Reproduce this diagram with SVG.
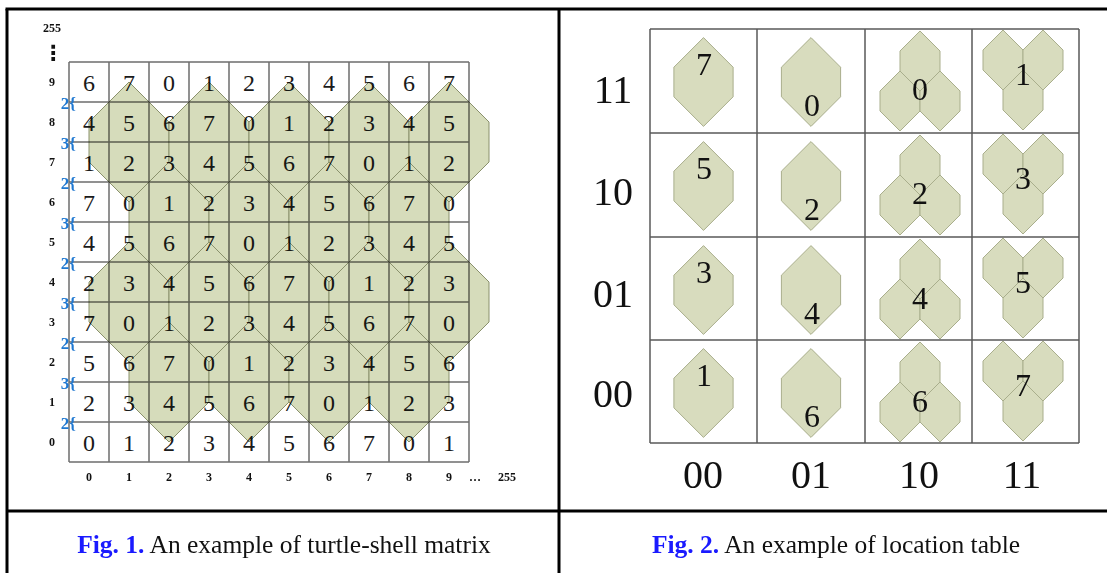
<svg xmlns="http://www.w3.org/2000/svg" xmlns:xlink="http://www.w3.org/1999/xlink" width="1107" height="573" viewBox="0 0 1107 573">
<style>
.frame{stroke:#000;stroke-width:3;fill:none}
.g1{stroke:#4a4a4a;stroke-width:1.5;fill:none;opacity:0.8}
.g2{stroke:#5a5a5a;stroke-width:1.5;fill:none}
.d1{font-family:"Liberation Serif",serif;font-size:24px;fill:#1a1a1a;text-anchor:middle}
.ax{font-family:"Liberation Serif",serif;font-size:12px;font-weight:bold;fill:#111;text-anchor:middle}
.br{font-family:"Liberation Serif",serif;font-size:17px;font-weight:bold;fill:#1f78d1;text-anchor:end}
.d2{font-family:"Liberation Serif",serif;font-size:32px;fill:#111;text-anchor:middle}
.lb{font-family:"Liberation Serif",serif;font-size:40px;fill:#111;text-anchor:middle}
.cap{font-family:"Liberation Serif",serif;font-size:25.5px;fill:#111;text-anchor:middle}
.fig{fill:#1a1aff;font-weight:bold}
.hx1{fill:#d6dcbb;stroke:#8a916c;stroke-width:1}
.hx2{fill:#d8dcbe;stroke:#a9ae8c;stroke-width:1}
</style>
<defs>
<polygon id="h1" points="0,-60 40,-20 40,20 0,60 -40,20 -40,-20"/>
<polygon id="h2a" points="0,-44.4 29.6,-14.8 29.6,14.8 0,44.4 -29.6,14.8 -29.6,-14.8"/>
<polygon id="h2b" points="0,-30 20,-10 20,10 0,30 -20,10 -20,-10"/>
</defs>
<rect x="0" y="0" width="1107" height="573" fill="#fff"/>
<g id="frame" class="frame">
<line x1="5.5" y1="9" x2="1107" y2="9"/>
<line x1="7" y1="9" x2="7" y2="573"/>
<line x1="559" y1="9" x2="559" y2="573"/>
<line x1="7" y1="511" x2="1107" y2="511"/>
</g>
<g id="fig1-digits">
<text class="d1" x="89" y="91">6</text><text class="d1" x="129" y="91">7</text><text class="d1" x="169" y="91">0</text><text class="d1" x="209" y="91">1</text><text class="d1" x="249" y="91">2</text><text class="d1" x="289" y="91">3</text><text class="d1" x="329" y="91">4</text><text class="d1" x="369" y="91">5</text><text class="d1" x="409" y="91">6</text><text class="d1" x="449" y="91">7</text>
<text class="d1" x="89" y="131">4</text><text class="d1" x="129" y="131">5</text><text class="d1" x="169" y="131">6</text><text class="d1" x="209" y="131">7</text><text class="d1" x="249" y="131">0</text><text class="d1" x="289" y="131">1</text><text class="d1" x="329" y="131">2</text><text class="d1" x="369" y="131">3</text><text class="d1" x="409" y="131">4</text><text class="d1" x="449" y="131">5</text>
<text class="d1" x="89" y="171">1</text><text class="d1" x="129" y="171">2</text><text class="d1" x="169" y="171">3</text><text class="d1" x="209" y="171">4</text><text class="d1" x="249" y="171">5</text><text class="d1" x="289" y="171">6</text><text class="d1" x="329" y="171">7</text><text class="d1" x="369" y="171">0</text><text class="d1" x="409" y="171">1</text><text class="d1" x="449" y="171">2</text>
<text class="d1" x="89" y="211">7</text><text class="d1" x="129" y="211">0</text><text class="d1" x="169" y="211">1</text><text class="d1" x="209" y="211">2</text><text class="d1" x="249" y="211">3</text><text class="d1" x="289" y="211">4</text><text class="d1" x="329" y="211">5</text><text class="d1" x="369" y="211">6</text><text class="d1" x="409" y="211">7</text><text class="d1" x="449" y="211">0</text>
<text class="d1" x="89" y="251">4</text><text class="d1" x="129" y="251">5</text><text class="d1" x="169" y="251">6</text><text class="d1" x="209" y="251">7</text><text class="d1" x="249" y="251">0</text><text class="d1" x="289" y="251">1</text><text class="d1" x="329" y="251">2</text><text class="d1" x="369" y="251">3</text><text class="d1" x="409" y="251">4</text><text class="d1" x="449" y="251">5</text>
<text class="d1" x="89" y="291">2</text><text class="d1" x="129" y="291">3</text><text class="d1" x="169" y="291">4</text><text class="d1" x="209" y="291">5</text><text class="d1" x="249" y="291">6</text><text class="d1" x="289" y="291">7</text><text class="d1" x="329" y="291">0</text><text class="d1" x="369" y="291">1</text><text class="d1" x="409" y="291">2</text><text class="d1" x="449" y="291">3</text>
<text class="d1" x="89" y="331">7</text><text class="d1" x="129" y="331">0</text><text class="d1" x="169" y="331">1</text><text class="d1" x="209" y="331">2</text><text class="d1" x="249" y="331">3</text><text class="d1" x="289" y="331">4</text><text class="d1" x="329" y="331">5</text><text class="d1" x="369" y="331">6</text><text class="d1" x="409" y="331">7</text><text class="d1" x="449" y="331">0</text>
<text class="d1" x="89" y="371">5</text><text class="d1" x="129" y="371">6</text><text class="d1" x="169" y="371">7</text><text class="d1" x="209" y="371">0</text><text class="d1" x="249" y="371">1</text><text class="d1" x="289" y="371">2</text><text class="d1" x="329" y="371">3</text><text class="d1" x="369" y="371">4</text><text class="d1" x="409" y="371">5</text><text class="d1" x="449" y="371">6</text>
<text class="d1" x="89" y="411">2</text><text class="d1" x="129" y="411">3</text><text class="d1" x="169" y="411">4</text><text class="d1" x="209" y="411">5</text><text class="d1" x="249" y="411">6</text><text class="d1" x="289" y="411">7</text><text class="d1" x="329" y="411">0</text><text class="d1" x="369" y="411">1</text><text class="d1" x="409" y="411">2</text><text class="d1" x="449" y="411">3</text>
<text class="d1" x="89" y="451">0</text><text class="d1" x="129" y="451">1</text><text class="d1" x="169" y="451">2</text><text class="d1" x="209" y="451">3</text><text class="d1" x="249" y="451">4</text><text class="d1" x="289" y="451">5</text><text class="d1" x="329" y="451">6</text><text class="d1" x="369" y="451">7</text><text class="d1" x="409" y="451">0</text><text class="d1" x="449" y="451">1</text>
</g>
<g id="fig1-grid" class="g1">
<path d="M69,62V462M109,62V462M149,62V462M189,62V462M229,62V462M269,62V462M309,62V462M349,62V462M389,62V462M429,62V462M469,62V462"/>
<path d="M69,62H469M69,102H469M69,142H469M69,182H469M69,222H469M69,262H469M69,302H469M69,342H469M69,382H469M69,422H469M69,462H469"/>
</g>
<g id="fig1-shells" class="hx1" style="mix-blend-mode:multiply">
<use xlink:href="#h1" x="129" y="142"/><use xlink:href="#h1" x="209" y="142"/><use xlink:href="#h1" x="289" y="142"/><use xlink:href="#h1" x="369" y="142"/><use xlink:href="#h1" x="449" y="142"/>
<use xlink:href="#h1" x="169" y="222"/><use xlink:href="#h1" x="249" y="222"/><use xlink:href="#h1" x="329" y="222"/><use xlink:href="#h1" x="409" y="222"/>
<use xlink:href="#h1" x="129" y="302"/><use xlink:href="#h1" x="209" y="302"/><use xlink:href="#h1" x="289" y="302"/><use xlink:href="#h1" x="369" y="302"/><use xlink:href="#h1" x="449" y="302"/>
<use xlink:href="#h1" x="169" y="382"/><use xlink:href="#h1" x="249" y="382"/><use xlink:href="#h1" x="329" y="382"/><use xlink:href="#h1" x="409" y="382"/>
</g>
<g id="fig1-axes">
<text class="ax" x="52" y="32">255</text>
<text x="53" y="60" font-family="DejaVu Sans,sans-serif" font-size="21" font-weight="bold" fill="#111" text-anchor="middle">⋮</text>
<text class="ax" x="52" y="86">9</text><text class="ax" x="52" y="126">8</text><text class="ax" x="52" y="166">7</text><text class="ax" x="52" y="206">6</text><text class="ax" x="52" y="246">5</text><text class="ax" x="52" y="286">4</text><text class="ax" x="52" y="326">3</text><text class="ax" x="52" y="366">2</text><text class="ax" x="52" y="406">1</text><text class="ax" x="52" y="446">0</text>
<text class="ax" x="89" y="481">0</text><text class="ax" x="129" y="481">1</text><text class="ax" x="169" y="481">2</text><text class="ax" x="209" y="481">3</text><text class="ax" x="249" y="481">4</text><text class="ax" x="289" y="481">5</text><text class="ax" x="329" y="481">6</text><text class="ax" x="369" y="481">7</text><text class="ax" x="409" y="481">8</text><text class="ax" x="449" y="481">9</text>
<text class="ax" x="469" y="481" style="text-anchor:start;letter-spacing:1px">…<tspan x="498" style="letter-spacing:0">255</tspan></text>
</g>
<g id="fig1-brackets">
<text class="br" x="76" y="109">2{</text><text class="br" x="76" y="149">3{</text><text class="br" x="76" y="189">2{</text><text class="br" x="76" y="229">3{</text><text class="br" x="76" y="269">2{</text><text class="br" x="76" y="309">3{</text><text class="br" x="76" y="349">2{</text><text class="br" x="76" y="389">3{</text><text class="br" x="76" y="429">2{</text>
</g>
<g id="fig2-shells" class="hx2">
<use xlink:href="#h2a" x="703.5" y="82"/><use xlink:href="#h2a" x="811" y="82"/>
<use xlink:href="#h2b" x="920" y="61"/><use xlink:href="#h2b" x="900" y="101"/><use xlink:href="#h2b" x="940" y="101"/>
<use xlink:href="#h2b" x="1003" y="60"/><use xlink:href="#h2b" x="1043" y="60"/><use xlink:href="#h2b" x="1023" y="100"/>
<use xlink:href="#h2a" x="703.5" y="186"/><use xlink:href="#h2a" x="811" y="186"/>
<use xlink:href="#h2b" x="920" y="165"/><use xlink:href="#h2b" x="900" y="205"/><use xlink:href="#h2b" x="940" y="205"/>
<use xlink:href="#h2b" x="1003" y="164"/><use xlink:href="#h2b" x="1043" y="164"/><use xlink:href="#h2b" x="1023" y="204"/>
<use xlink:href="#h2a" x="703.5" y="290"/><use xlink:href="#h2a" x="811" y="290"/>
<use xlink:href="#h2b" x="920" y="269"/><use xlink:href="#h2b" x="900" y="309"/><use xlink:href="#h2b" x="940" y="309"/>
<use xlink:href="#h2b" x="1003" y="268"/><use xlink:href="#h2b" x="1043" y="268"/><use xlink:href="#h2b" x="1023" y="308"/>
<use xlink:href="#h2a" x="703.5" y="393"/><use xlink:href="#h2a" x="811" y="393"/>
<use xlink:href="#h2b" x="920" y="372"/><use xlink:href="#h2b" x="900" y="412"/><use xlink:href="#h2b" x="940" y="412"/>
<use xlink:href="#h2b" x="1003" y="371"/><use xlink:href="#h2b" x="1043" y="371"/><use xlink:href="#h2b" x="1023" y="411"/>
</g>
<g id="fig2-grid" class="g2">
<path d="M650,29V443M757,29V443M865,29V443M972,29V443M1079,29V443"/>
<path d="M650,29H1079M650,133H1079M650,237H1079M650,340H1079M650,443H1079"/>
</g>
<g id="fig2-digits">
<text class="d2" x="704" y="75">7</text><text class="d2" x="812" y="116">0</text><text class="d2" x="920" y="100">0</text><text class="d2" x="1023" y="85">1</text>
<text class="d2" x="704" y="179">5</text><text class="d2" x="812" y="220">2</text><text class="d2" x="920" y="204">2</text><text class="d2" x="1023" y="189">3</text>
<text class="d2" x="704" y="283">3</text><text class="d2" x="812" y="324">4</text><text class="d2" x="920" y="309">4</text><text class="d2" x="1023" y="293">5</text>
<text class="d2" x="704" y="386">1</text><text class="d2" x="812" y="427">6</text><text class="d2" x="920" y="412">6</text><text class="d2" x="1023" y="396">7</text>
</g>
<g id="fig2-labels">
<text class="lb" x="613" y="103">11</text><text class="lb" x="613" y="205">10</text><text class="lb" x="613" y="307">01</text><text class="lb" x="613" y="407">00</text>
<text class="lb" x="703" y="488">00</text><text class="lb" x="811" y="488">01</text><text class="lb" x="919" y="488">10</text><text class="lb" x="1022" y="488">11</text>
</g>
<g id="captions">
<text class="cap" x="284" y="553"><tspan class="fig">Fig. 1.</tspan> An example of turtle-shell matrix</text>
<text class="cap" x="836" y="553"><tspan class="fig">Fig. 2.</tspan> An example of location table</text>
</g>
</svg>
